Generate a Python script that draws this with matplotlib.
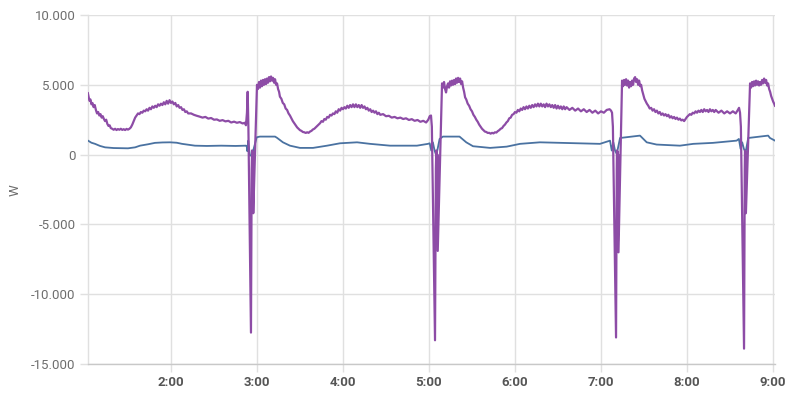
import matplotlib
matplotlib.use("Agg")
import matplotlib.pyplot as plt
from matplotlib.ticker import FuncFormatter, FixedLocator

plt.rcParams['font.family'] = ['Roboto', 'DejaVu Sans']

# time in minutes after midnight, power in W
purple_series = [
    (62.0, 4400), (62.6, 4100), (63.2, 3850), (63.8, 3950), (64.5, 3600), (65.2, 3700), (66.0, 3400),
    (66.8, 3550), (67.6, 3200), (68.4, 2950), (69.2, 3050), (70.0, 2800), (70.8, 2900), (71.6, 2650),
    (72.4, 2750), (73.2, 2550), (74.0, 2400), (74.8, 2500), (75.6, 2200), (76.4, 2050), (77.2, 2100),
    (78.0, 1900), (79.0, 1850), (80.0, 1780), (81.0, 1850), (82.0, 1760), (83.0, 1830), (84.0, 1780),
    (85.0, 1850), (86.0, 1770), (87.0, 1820), (88.0, 1760), (89.0, 1840), (90.0, 1790), (91.0, 1850),
    (92.0, 1950), (93.0, 2150), (94.0, 2400), (95.0, 2650), (96.0, 2800), (97.0, 2950), (98.0, 2900),
    (99.0, 3050), (100.0, 3000), (101.0, 3150), (102.0, 3100), (103.0, 3250), (104.0, 3150), (105.0, 3350),
    (106.0, 3250), (107.0, 3450), (108.0, 3350), (109.0, 3500), (110.0, 3400), (111.0, 3600), (112.0, 3500),
    (113.0, 3650), (114.0, 3550), (115.0, 3750), (116.0, 3600), (117.0, 3850), (118.0, 3650), (119.0, 3900),
    (120.0, 3700), (121.0, 3800), (122.0, 3600), (123.0, 3700), (124.0, 3450), (125.0, 3550), (126.0, 3350),
    (127.0, 3400), (128.0, 3200), (129.0, 3250), (130.0, 3050), (131.0, 3100), (132.0, 2950), (134.0, 2950),
    (136.0, 2850), (138.0, 2780), (140.0, 2720), (142.0, 2650), (144.0, 2700), (146.0, 2580), (148.0, 2620),
    (150.0, 2500), (152.0, 2520), (154.0, 2420), (156.0, 2470), (158.0, 2380), (160.0, 2420), (162.0, 2300),
    (164.0, 2360), (166.0, 2280), (168.0, 2330), (170.0, 2230), (171.5, 2280), (172.3, 2100),
    # event 1
    (173.0, 3000), (173.5, 4500), (174.0, 2000), (175.8, -12750), (176.3, -1000), (176.6, 300),
    (176.9, -3500), (177.1, 200), (177.4, -4200),
    (180.0, 5000), (180.7, 4700), (181.4, 5200), (182.1, 4800), (182.8, 5300), (183.5, 4900), (184.2, 5350),
    (184.9, 5000), (185.6, 5400), (186.3, 5050), (187.0, 5450), (187.7, 5150), (188.4, 5550), (189.1, 5250),
    (189.8, 5600), (190.5, 5300), (191.2, 5500), (191.9, 5150), (192.6, 5400), (193.3, 5000), (194.0, 5100),
    (194.7, 4700), (195.4, 4500), (196.0, 4150), (197.0, 4000), (198.0, 3700), (199.0, 3600), (200.0, 3300),
    (201.0, 3200), (202.0, 2950), (203.0, 2800), (204.0, 2600), (205.0, 2400), (206.0, 2250), (207.0, 2100),
    (208.0, 1950), (209.0, 1850), (210.0, 1750), (211.0, 1700), (212.0, 1620), (213.0, 1600), (214.0, 1550),
    (215.0, 1600), (216.0, 1560), (217.0, 1650), (218.0, 1700), (219.0, 1800), (220.0, 1850), (221.0, 1950),
    (222.0, 2050), (223.0, 2150), (224.0, 2250), (225.0, 2400), (226.0, 2350), (227.0, 2550), (228.0, 2500),
    (229.0, 2700), (230.0, 2650), (231.0, 2850), (232.0, 2800), (233.0, 2950), (234.0, 2900), (235.0, 3100),
    (236.0, 3000), (237.0, 3250), (238.0, 3150), (239.0, 3350), (240.0, 3250), (241.0, 3400), (242.0, 3300),
    (243.0, 3500), (244.0, 3350), (245.0, 3550), (246.0, 3400), (247.0, 3600), (248.0, 3400), (249.0, 3600),
    (250.0, 3400), (251.0, 3550), (252.0, 3350), (253.0, 3550), (254.0, 3350), (255.0, 3450), (256.0, 3250),
    (257.0, 3350), (258.0, 3150), (259.0, 3250), (260.0, 3050), (261.0, 3150), (262.0, 3000), (263.0, 3100),
    (264.0, 2900), (265.0, 3000), (266.0, 2850), (268.0, 2900), (270.0, 2750), (272.0, 2780), (274.0, 2650),
    (276.0, 2700), (278.0, 2600), (280.0, 2650), (282.0, 2550), (284.0, 2600), (286.0, 2480), (288.0, 2540),
    (290.0, 2420), (292.0, 2480), (294.0, 2350), (296.0, 2420), (298.0, 2300), (299.5, 2500), (300.5, 2750),
    (301.4, 2800),
    # event 2
    (302.0, 2000), (304.2, -13300), (304.8, -1000), (305.1, 300), (305.3, -5000), (305.5, 200),
    (305.7, -6000), (305.9, 0), (306.1, -6900),
    (309.1, 5100), (309.8, 4800), (310.5, 5200), (311.2, 4700), (311.9, 4450), (312.6, 4900), (313.3, 5100),
    (314.0, 4800), (314.7, 5250), (315.4, 4950), (316.1, 5300), (316.8, 5000), (317.5, 5350), (318.2, 5050),
    (318.9, 5450), (319.6, 5150), (320.3, 5500), (321.0, 5200), (321.7, 5450), (322.4, 5050), (323.1, 5250),
    (323.8, 4800), (324.5, 4500), (325.2, 4100), (326.0, 3950), (327.0, 3650), (328.0, 3500), (329.0, 3250),
    (330.0, 3100), (331.0, 2850), (332.0, 2700), (333.0, 2500), (334.0, 2350), (335.0, 2150), (336.0, 2000),
    (337.0, 1850), (338.0, 1750), (339.0, 1650), (340.0, 1620), (341.0, 1550), (342.0, 1560), (343.0, 1500),
    (344.0, 1560), (345.0, 1520), (346.0, 1600), (347.0, 1580), (348.0, 1680), (349.0, 1750), (350.0, 1850),
    (351.0, 1900), (352.0, 2050), (353.0, 2150), (354.0, 2300), (355.0, 2400), (356.0, 2600), (357.0, 2650),
    (358.0, 2850), (359.0, 2900), (360.0, 3050), (361.0, 3000), (362.0, 3200), (363.0, 3100), (364.0, 3300),
    (365.0, 3200), (366.0, 3400), (367.0, 3250), (368.0, 3450), (369.0, 3300), (370.0, 3500), (371.0, 3350),
    (372.0, 3550), (373.0, 3400), (374.0, 3600), (375.0, 3450), (376.0, 3650), (377.0, 3450), (378.0, 3650),
    (379.0, 3450), (380.0, 3600), (381.0, 3400), (382.0, 3650), (383.0, 3450), (384.0, 3600), (385.0, 3400),
    (386.0, 3550), (387.0, 3350), (388.0, 3550), (389.0, 3300), (390.0, 3500), (391.0, 3300), (392.0, 3450),
    (393.0, 3250), (394.0, 3450), (395.0, 3250), (396.0, 3400), (398.0, 3200), (400.0, 3350), (402.0, 3150),
    (404.0, 3300), (406.0, 3100), (408.0, 3250), (410.0, 3050), (412.0, 3200), (414.0, 3000), (416.0, 3150),
    (418.0, 2950), (420.0, 3100), (422.0, 3000), (424.0, 3200), (426.0, 3250), (427.0, 3150), (427.7, 3000),
    # event 3
    (428.3, 2000), (430.5, -13100), (431.0, -1000), (431.2, 300), (431.4, -5000), (431.6, 200),
    (431.8, -6200), (432.0, 0), (432.2, -7000),
    (434.7, 5300), (435.4, 4900), (436.1, 5350), (436.8, 5000), (437.5, 5400), (438.2, 4950), (438.9, 5300),
    (439.6, 4800), (440.3, 5200), (441.0, 4900), (441.7, 5300), (442.4, 5000), (443.1, 5450), (443.8, 5550),
    (444.5, 5200), (445.2, 5400), (445.9, 5000), (446.6, 5300), (447.3, 4900), (448.0, 5000), (448.7, 4600),
    (449.5, 4300), (450.3, 4000), (451.0, 3850), (452.0, 3650), (453.0, 3500), (454.0, 3300), (455.0, 3350),
    (456.0, 3150), (457.0, 3250), (458.0, 3050), (459.0, 3150), (460.0, 2950), (461.0, 3050), (462.0, 2850),
    (463.0, 2950), (464.0, 2800), (465.0, 2900), (466.0, 2750), (467.0, 2850), (468.0, 2650), (469.0, 2750),
    (470.0, 2600), (471.0, 2700), (472.0, 2550), (473.0, 2650), (474.0, 2500), (475.0, 2580), (476.0, 2450),
    (477.0, 2500), (478.0, 2400), (479.0, 2550), (480.0, 2700), (481.0, 2800), (482.0, 2900), (483.0, 2850),
    (484.0, 3000), (485.0, 2950), (486.0, 3100), (487.0, 3000), (488.0, 3150), (489.0, 3050), (490.0, 3200),
    (491.0, 3050), (492.0, 3250), (493.0, 3100), (494.0, 3200), (495.0, 3050), (496.0, 3250), (497.0, 3100),
    (498.0, 3200), (499.0, 3050), (500.0, 3200), (502.0, 3000), (504.0, 3150), (506.0, 2950), (508.0, 3100),
    (510.0, 2950), (512.0, 3100), (514.0, 2950), (515.5, 3200), (516.3, 3350), (517.0, 3000),
    # event 4
    (517.6, 2000), (519.8, -13900), (520.3, -1000), (520.5, 300), (520.7, -3500), (520.9, 200),
    (521.1, -4200),
    (524.0, 5100), (524.7, 4800), (525.4, 5200), (526.1, 4900), (526.8, 5250), (527.5, 4950), (528.2, 5300),
    (528.9, 5000), (529.6, 5250), (530.3, 4950), (531.0, 5200), (531.7, 5000), (532.4, 5350), (533.1, 5100),
    (533.8, 5450), (534.5, 5150), (535.2, 5350), (535.9, 4950), (536.6, 5100), (537.3, 4700), (538.0, 4500),
    (538.7, 4200), (539.4, 4000), (540.1, 3800), (540.8, 3650), (541.4, 3500),
]

blue_series = [
    (62.1, 1000), (64.5, 850), (67.0, 770), (70.5, 620), (74.0, 520), (80.0, 470), (90.0, 450),
    (95.0, 520), (98.4, 640), (104.0, 740), (108.8, 840), (114.0, 870), (119.3, 880), (124.0, 850),
    (127.7, 770), (136.7, 640), (145.0, 620), (155.0, 640), (165.0, 620), (172.3, 640), (172.8, 620),
    (173.3, 240), (173.9, 1000), (174.6, 300), (175.1, -70), (176.5, -50), (179.8, 1240), (182.0, 1290),
    (192.6, 1290), (194.0, 1200), (198.1, 880), (203.0, 640), (210.0, 480), (219.1, 480), (228.9, 640),
    (237.9, 810), (249.8, 880), (258.9, 770), (272.8, 640), (291.6, 640), (299.3, 770), (300.5, 810),
    (301.6, 290), (302.7, 880), (303.9, 290), (305.1, -70), (307.4, 1120), (309.7, 1290), (321.3, 1290),
    (326.0, 880), (330.7, 600), (342.6, 480), (354.2, 570), (363.5, 770), (377.4, 880), (419.3, 770),
    (426.3, 1000), (427.5, 290), (428.6, 880), (429.8, 290), (431.0, 50), (433.3, 1190), (447.2, 1360),
    (448.4, 1240), (451.9, 880), (458.8, 720), (475.1, 640), (484.4, 770), (498.1, 840), (514.6, 1000),
    (516.2, 1120), (517.4, 410), (518.5, 880), (519.7, 410), (520.9, 160), (522.7, 1190), (536.6, 1360),
    (537.9, 1190), (541.4, 1000),
]

x_ticks = [120, 180, 240, 300, 360, 420, 480, 540]
x_tick_labels = ["2:00", "3:00", "4:00", "5:00", "6:00", "7:00", "8:00", "9:00"]
y_ticks = [-15000, -10000, -5000, 0, 5000, 10000]
y_label = "W"

purple_t, purple_w = zip(*purple_series)
blue_t, blue_w = zip(*blue_series)

fig = plt.figure(figsize=(8.0, 3.96), dpi=100)
ax = fig.add_axes([88 / 800, 32 / 396, 687 / 800, 349 / 396])

grid_c = "#e0e0e0"
ax.plot(blue_t, blue_w, color="#4a72a1", lw=1.3, zorder=3, solid_joinstyle="round")
ax.plot(purple_t, purple_w, color="#8d4ca6", lw=1.6, zorder=4, solid_joinstyle="round")

ax.set_xlim(62.1, 541.4)
ax.set_ylim(-15000, 10000)
ax.xaxis.set_major_locator(FixedLocator(x_ticks))
ax.set_xticklabels(x_tick_labels)
ax.yaxis.set_major_locator(FixedLocator(y_ticks))
ax.yaxis.set_major_formatter(FuncFormatter(lambda v, p: f"{v:,.0f}".replace(",", ".")))

ax.grid(True, color=grid_c, lw=1.0, zorder=0)
ax.set_axisbelow(True)
for s in ["top", "right"]:
    ax.spines[s].set_visible(False)
ax.spines["left"].set_color(grid_c)
ax.spines["bottom"].set_color("#c8c8c8")
ax.spines["left"].set_linewidth(1.0)
ax.spines["bottom"].set_linewidth(1.0)

ax.tick_params(axis="both", length=6, width=1.0, color=grid_c)
ax.tick_params(axis="y", pad=3, labelsize=9.5, labelcolor="#6e6e6e")
ax.tick_params(axis="x", pad=3, labelsize=9.5, labelcolor="#555555")
for lbl in ax.get_xticklabels():
    lbl.set_fontweight("bold")

ax.set_ylabel(y_label, color="#6e6e6e", fontsize=9.5)
ax.yaxis.set_label_coords((22 - 88) / 687, (396 - 190 - 32) / 349)

fig.savefig("out.png", dpi=100, facecolor="white")
